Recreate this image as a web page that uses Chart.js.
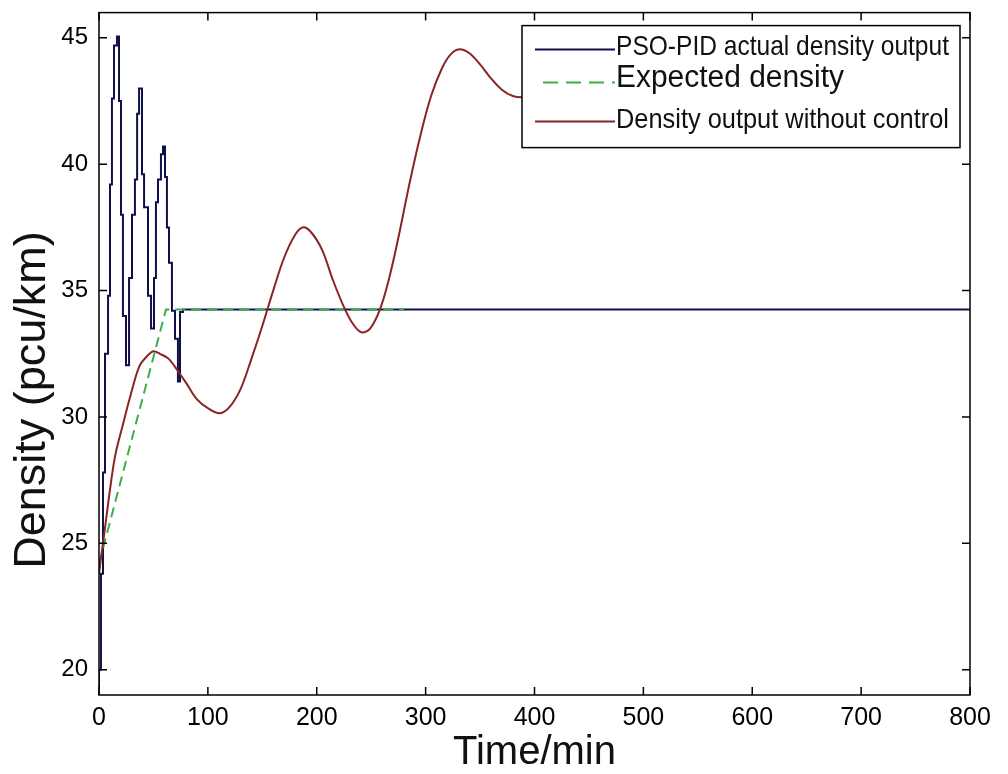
<!DOCTYPE html>
<html>
<head>
<meta charset="utf-8">
<script src="https://cdn.jsdelivr.net/npm/chart.js@4.4.1/dist/chart.umd.min.js"></script>
<style>
  html, body { margin: 0; padding: 0; background: #fff; }
  #wrap { width: 1008px; height: 774px; }
</style>
</head>
<body>
<div id="wrap"><canvas id="densityChart" width="1008" height="774"></canvas></div>
<script>
// values: time in min, density in pcu/km
const pidTime = [0, 1.8, 3.7, 5.5, 8.3, 10.1, 11.9, 13.8, 16.5, 18.4, 20.2, 22.0, 24.8, 27.6, 30.3,
  33.0, 35.0, 36.8, 39.5, 41.4, 45.0, 47.8, 50.5, 52.3, 54.2, 56.9, 58.8, 60.6, 62.4, 64.3,
  67.0, 69.8, 72.5, 74.4, 77.1, 115, 800];
const pidDensity = [19.3, 20.0, 23.8, 27.8, 32.5, 34.8, 39.2, 42.6, 44.7, 45.05, 42.5, 38.0, 34.0, 32.05, 35.5,
  38.0, 39.4, 42.0, 43.0, 39.6, 38.3, 34.8, 33.5, 35.5, 38.5, 39.4, 40.4, 40.7, 39.5, 37.5,
  36.1, 34.2, 33.1, 31.4, 34.15, 34.25, 34.25];

const expectedTime = [0, 61.5, 280];
const expectedDensity = [24.2, 34.25, 34.25];

// the tail of this curve runs behind the legend box
const openTime = [0, 3, 5.5, 10, 15, 22, 28, 37, 44, 50, 56, 64, 72, 80, 90, 100, 111, 120, 130, 140,
  150, 160, 170, 180, 187, 195, 205, 215, 225, 233, 241, 249, 258, 266, 275, 285, 295, 305, 315, 323,
  331, 340, 350, 360, 370, 380, 390, 400, 420, 450, 500, 560, 640, 720, 770];
const openDensity = [23.8, 24.8, 25.6, 27.1, 28.5, 29.7, 30.7, 32.0, 32.4, 32.6, 32.5, 32.3, 31.85, 31.35, 30.7, 30.35, 30.15, 30.4, 31.1, 32.3,
  33.6, 35.0, 36.3, 37.2, 37.5, 37.3, 36.6, 35.4, 34.35, 33.7, 33.35, 33.5, 34.25, 35.4, 37.1, 39.2, 41.1, 42.7, 43.8, 44.35,
  44.55, 44.4, 43.95, 43.4, 42.95, 42.7, 42.65, 42.75, 43.1, 43.6, 43.7, 43.4, 43.3, 43.4, 43.4];

const xTicks = [0, 100, 200, 300, 400, 500, 600, 700, 800];
const yTicks = [20, 25, 30, 35, 40, 45];
const seriesNames = ['PSO-PID actual density output', 'Expected density', 'Density output without control'];
const xTitle = 'Time/min';
const yTitle = 'Density (pcu/km)';

const BLUE = '#10104a';
const GREEN = '#3fae48';
const RED = '#8a2424';

const toPoints = (xs, ys) => xs.map((t, i) => ({ x: t, y: ys[i] }));

// MATLAB-like box with inward ticks, legend inside the axes, y title
const matlabFrame = {
  id: 'matlabFrame',
  afterDatasetsDraw(chart) {
    const { ctx, chartArea: a, scales: { x, y } } = chart;
    ctx.save();
    ctx.strokeStyle = '#000';
    ctx.lineWidth = 1.5;
    ctx.strokeRect(a.left, a.top, a.right - a.left, a.bottom - a.top);
    ctx.beginPath();
    x.ticks.forEach(t => {
      const px = x.getPixelForValue(t.value);
      ctx.moveTo(px, a.bottom); ctx.lineTo(px, a.bottom - 8);
      ctx.moveTo(px, a.top); ctx.lineTo(px, a.top + 8);
    });
    y.ticks.forEach(t => {
      const py = y.getPixelForValue(t.value);
      ctx.moveTo(a.left, py); ctx.lineTo(a.left + 8, py);
      ctx.moveTo(a.right, py); ctx.lineTo(a.right - 8, py);
    });
    ctx.stroke();

    // legend box
    const bx = a.right - 448, by = a.top + 13, bw = 438, bh = 122;
    ctx.fillStyle = '#fff';
    ctx.fillRect(bx, by, bw, bh);
    ctx.strokeRect(bx, by, bw, bh);
    const rows = [
      { color: BLUE, dash: [], lineY: 24, textY: 22, size: 28, width: 333, x0: 13 },
      { color: GREEN, dash: [15, 8], lineY: 57, textY: 53, size: 31, width: 228, x0: 21 },
      { color: RED, dash: [], lineY: 96, textY: 95, size: 28, width: 333, x0: 13 }
    ];
    ctx.textBaseline = 'middle';
    ctx.textAlign = 'left';
    rows.forEach((r, i) => {
      ctx.beginPath();
      ctx.strokeStyle = r.color;
      ctx.lineWidth = 2;
      ctx.setLineDash(r.dash);
      ctx.moveTo(bx + r.x0, by + r.lineY);
      ctx.lineTo(bx + 93, by + r.lineY);
      ctx.stroke();
      ctx.setLineDash([]);
      ctx.fillStyle = '#111';
      ctx.font = r.size + 'px "Liberation Sans", Arial, sans-serif';
      ctx.fillText(seriesNames[i], bx + 94, by + r.textY, r.width);
    });

    // y axis title (sits a bit below the axis centre in the original)
    ctx.translate(33, 400);
    ctx.rotate(-Math.PI / 2);
    ctx.textAlign = 'center';
    ctx.fillStyle = '#111';
    ctx.font = '45px "Liberation Sans", Arial, sans-serif';
    ctx.fillText(yTitle, 0, 0);
    ctx.restore();
  }
};

new Chart(document.getElementById('densityChart'), {
  type: 'line',
  data: {
    datasets: [
      {
        label: seriesNames[0],
        data: toPoints(pidTime, pidDensity),
        borderColor: BLUE,
        borderWidth: 2,
        stepped: 'after',
        pointRadius: 0,
        order: 3
      },
      {
        label: seriesNames[1],
        data: toPoints(expectedTime, expectedDensity),
        borderColor: GREEN,
        borderWidth: 2,
        borderDash: [10, 6],
        pointRadius: 0,
        order: 2
      },
      {
        label: seriesNames[2],
        data: toPoints(openTime, openDensity),
        borderColor: RED,
        borderWidth: 2,
        tension: 0.35,
        pointRadius: 0,
        order: 1
      }
    ]
  },
  options: {
    responsive: false,
    animation: false,
    layout: { padding: { top: 0, right: 38, left: 0, bottom: 0 } },
    plugins: {
      legend: { display: false },
      tooltip: { enabled: false }
    },
    scales: {
      x: {
        type: 'linear',
        min: 0,
        max: 800,
        afterBuildTicks: scale => { scale.ticks = xTicks.map(v => ({ value: v })); },
        afterFit: scale => { scale.height = 79; },
        grid: { display: false },
        border: { display: false },
        ticks: {
          color: '#000',
          padding: 0,
          maxRotation: 0,
          font: { size: 25, family: '"Liberation Sans Narrow", "Liberation Sans", sans-serif' }
        },
        title: {
          display: true,
          text: xTitle,
          color: '#111',
          padding: { top: 0, bottom: 1 },
          font: { size: 40, family: '"Liberation Sans", Arial, sans-serif', lineHeight: 1 }
        }
      },
      y: {
        type: 'linear',
        min: 19,
        max: 46,
        afterBuildTicks: scale => { scale.ticks = yTicks.map(v => ({ value: v })); },
        afterFit: scale => { scale.width = 99; },
        grid: { display: false },
        border: { display: false },
        ticks: {
          color: '#000',
          padding: 3,
          font: { size: 24, family: '"Liberation Sans", Arial, sans-serif', lineHeight: 0.8 }
        }
      }
    }
  },
  plugins: [matlabFrame]
});
</script>
</body>
</html>
